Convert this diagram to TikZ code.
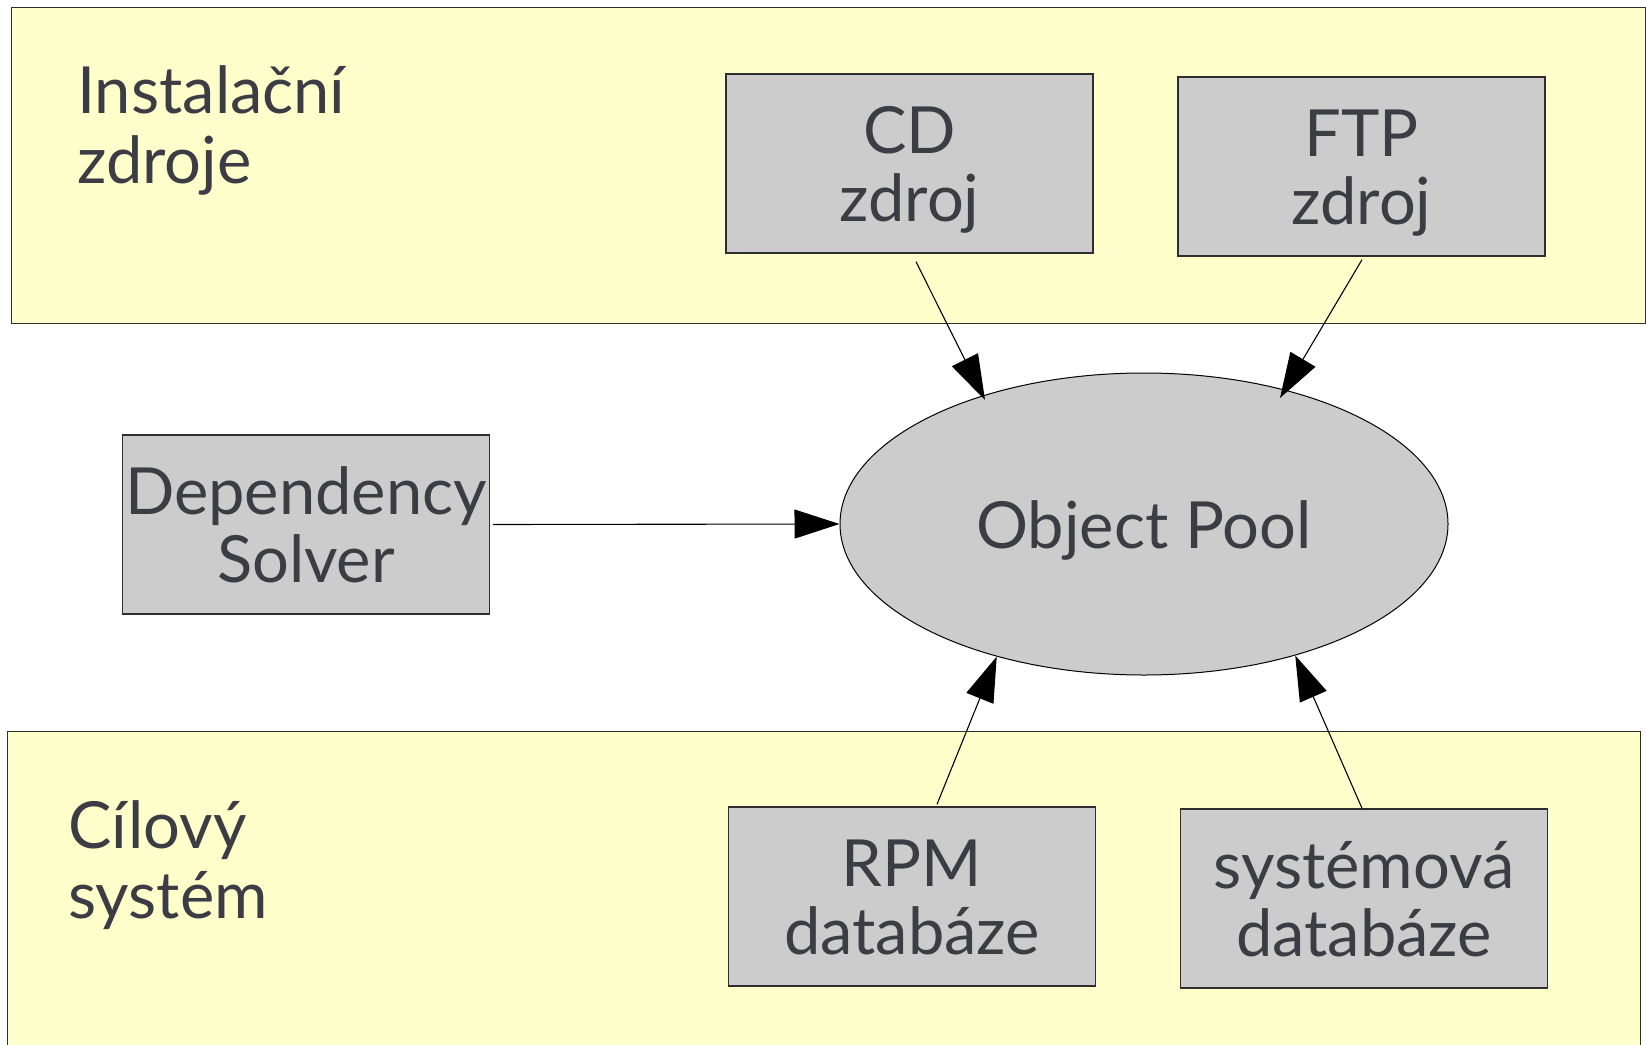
\documentclass[tikz,border=0pt]{standalone}
\usepackage{fontspec}
\setmainfont{Lato}
\usetikzlibrary{arrows.meta,shapes.geometric,calc}
\definecolor{zonefill}{HTML}{FFFFCC}
\definecolor{boxfill}{HTML}{CCCCCC}
\definecolor{txtcol}{HTML}{3C3C44}
\definecolor{edgecol}{HTML}{2E2E2E}
\newcommand\topstrut{\rule{0pt}{62pt}}
\newcommand\botstrut{\rule[-14pt]{0pt}{14pt}}
\tikzset{
  zonebox/.style={draw=edgecol, fill=zonefill, line width=1.4pt, inner sep=0pt, anchor=north west},
  itembox/.style={draw=edgecol, fill=boxfill, line width=1.4pt, inner sep=0pt,
     minimum width=367pt, minimum height=179pt, align=center, text=txtcol,
     font=\fontsize{65}{68}\selectfont},
  poolshape/.style={ellipse, draw=black, fill=boxfill, line width=1pt, inner sep=0pt,
     minimum width=608pt, minimum height=302pt, text=txtcol, font=\fontsize{65}{68}\selectfont},
  zonelabel/.style={align=left, text=txtcol, inner sep=0pt, anchor=base west,
     font=\fontsize{65}{70}\selectfont},
  flow/.style={line width=1.1pt, -{Triangle[length=45pt,width=29pt]}}
}
\begin{document}
\begin{tikzpicture}[x=1pt,y=-1pt]
\useasboundingbox (0,0) rectangle (1646,1044);
% zones
\node[zonebox, minimum width=1634pt, minimum height=316pt] (zonetop) at (11,7) {};
\node[zonebox, minimum width=1633pt, minimum height=340pt] (zonebot) at (7,731) {};
\node[zonelabel] (lbltop) at (77,183) {Instalační\\zdroje};
\node[zonelabel] (lblbot) at (68,918) {Cílový\\systém};
% boxes
\node[itembox] (cd) at (909.5,163.5) {\topstrut CD\\zdroj\botstrut};
\node[itembox] (ftp) at (1361.5,166.5) {\topstrut FTP\\zdroj\botstrut};
\node[itembox] (dep) at (306,524.5) {\topstrut Dependency\\Solver\botstrut};
\node[itembox] (rpm) at (912,896.5) {\topstrut RPM\\databáze\botstrut};
\node[itembox] (sys) at (1364,898.5) {\topstrut systémová\\databáze\botstrut};
% pool
\node[poolshape] (pool) at (1144,524) {\topstrut Object Pool\botstrut};
% connector ends
\coordinate (cdout) at ($(cd.south)+(6.5,8)$);
\coordinate (ftpout) at ($(ftp.south)+(0.5,3)$);
\coordinate (depout) at ($(dep.east)+(3,0)$);
\coordinate (rpmout) at ($(rpm.north)+(25,-2)$);
\coordinate (sysout) at ($(sys.north)+(-2,0)$);
\coordinate (cdin) at ($(pool.center)+(-159,-124)$);
\coordinate (ftpin) at ($(pool.center)+(136,-126)$);
\draw[flow] (cdout) -- (cdin);
\draw[flow] (ftpout) -- (ftpin);
\draw[flow] (depout) -- (pool.west);
\draw[flow] (rpmout) -- (pool.222);
\draw[flow] (sysout) -- (pool.319.5);
\end{tikzpicture}
\end{document}
